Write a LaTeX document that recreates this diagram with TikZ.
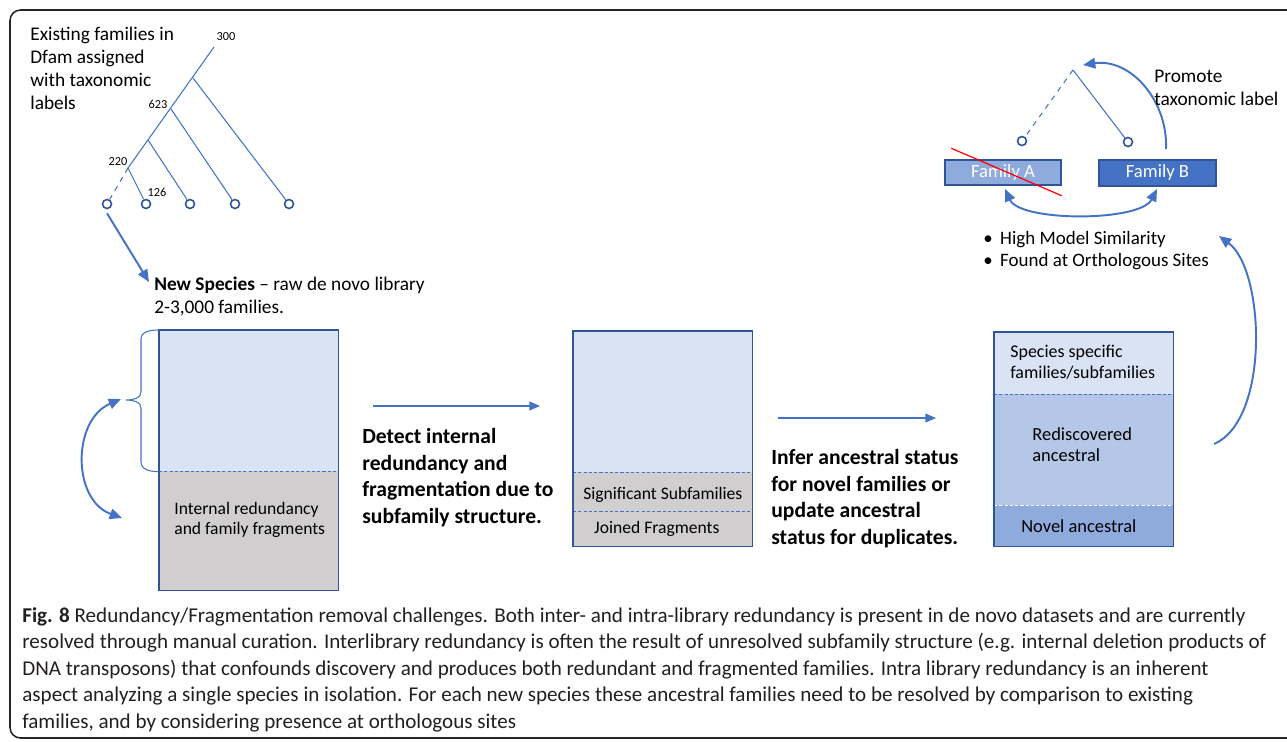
\documentclass[tikz,border=0pt]{standalone}
\usepackage{fontspec}
\setmainfont{Carlito}
\usetikzlibrary{arrows.meta,positioning,calc}

\definecolor{lineblue}{HTML}{4472C4}
\definecolor{darkblue}{HTML}{2F5597}
\definecolor{paleblue}{HTML}{DAE3F3}
\definecolor{midblue}{HTML}{B4C7E7}
\definecolor{softblue}{HTML}{8FAADC}
\definecolor{boxgray}{HTML}{D0CECE}
\definecolor{captext}{HTML}{231F20}

\begin{document}
\begin{tikzpicture}
  [
  x=0.02cm, y=-0.02cm, >={Triangle[length=7pt,width=6pt]},
  treeline/.style={draw=lineblue, line width=0.6pt},
  leaf/.style={circle, inner sep=0pt, minimum size=0.18cm, draw=darkblue, line width=0.9pt, fill=white},
  flow/.style={draw=lineblue, line width=1.1pt},
  thinflow/.style={draw=lineblue, line width=0.8pt, >={Triangle[length=6pt,width=5pt]}},
  part/.style={anchor=north west, inner sep=0pt, minimum width=3.58cm},
  boxline/.style={draw=darkblue, line width=0.8pt},
  sepline/.style={draw=lineblue, line width=0.7pt, dash pattern=on 1.8pt off 1.2pt},
  family/.style={rectangle, draw=darkblue, line width=0.8pt, text=white, inner sep=0pt, font=\fontsize{10.6}{12}\selectfont},
  txt/.style={inner sep=0pt, anchor=north west, align=left, font=\fontsize{11}{13.1}\selectfont},
  boxtxt/.style={inner sep=0pt, align=left, font=\fontsize{10}{11.6}\selectfont},
  steptxt/.style={inner sep=0pt, anchor=north west, align=left, font=\bfseries\fontsize{12.3}{15.2}\selectfont},
  num/.style={inner sep=0pt, font=\fontsize{7}{8}\selectfont}
  ]

  \useasboundingbox (0,0) rectangle (1287,741);
  \clip (0,0) rectangle (1287,741);
  \draw[line width=0.9pt, draw=black!85, rounded corners=6pt] (10,738) rectangle (1320,10);

  % existing Dfam tree
  \node[txt] (dfam) at (30,27) {Existing families in\\Dfam assigned\\with taxonomic\\labels};
  \coordinate (root) at (214,47);
  \coordinate (br1) at (193,78);
  \coordinate (br2) at (171,109);
  \coordinate (br3) at (148,140);
  \coordinate (br4) at (128,168);
  \draw[treeline] (root) -- (br4);

  \foreach \x [count=\i] in {107,146,190,235,289} {
    \node[leaf] (leaf\i) at (\x,204) {};
  }
  \draw[treeline, dashed] (br4) -- (leaf1);
  \draw[treeline] (br4) -- (leaf2);
  \draw[treeline] (br3) -- (leaf3);
  \draw[treeline] (br2) -- (leaf4);
  \draw[treeline] (br1) -- (leaf5);

  \node[num] (n300) at (226,37) {300};
  \node[num] (n623) at (158,104) {623};
  \node[num] (n220) at (118,162) {220};
  \node[num] (n126) at (157,192) {126};

  \coordinate (newsp) at (149,282);
  \draw[flow, ->] ([yshift=-0.08cm]leaf1.south) -- (newsp);
  \node[txt] (newlib) at (154,277) {\textbf{New Species} -- raw de novo library\\2-3,000 families.};

  % raw library box
  \node[part, fill=paleblue, minimum height=2.82cm] (lib-top) at (159,330) {};
  \node[part, fill=boxgray, minimum height=2.38cm] (lib-bot) at (159,471) {};
  \draw[sepline] (lib-top.south west) -- (lib-top.south east);
  \draw[boxline] (lib-top.north west) rectangle (lib-bot.south east);
  \node[boxtxt, anchor=north west] (lib-txt) at (174,502) {Internal redundancy\\and family fragments};

  % brace and loop arrow
  \draw[thinflow, line width=0.6pt] (lib-top.north west) to[out=180,in=90] (141,339) -- (141,392)
    to[out=-90,in=0] (126,400) to[out=0,in=90] (141,408) -- (141,462) to[out=-90,in=180] (lib-top.south west);
  \coordinate (loopA) at (121,399);
  \coordinate (loopB) at (122,518);
  \draw[flow, <->] (loopA) .. controls (72,420) and (72,500) .. (loopB);

  % step 1
  \coordinate (s1a) at (373,406);
  \coordinate (s1b) at (540,406);
  \draw[thinflow, ->] (s1a) -- (s1b);
  \node[steptxt] (step1) at (362,428) {Detect internal\\redundancy and\\fragmentation due to\\subfamily structure.};

  % collapsed library box
  \node[part, fill=paleblue, minimum height=2.82cm] (mid-top) at (573,331) {};
  \node[part, fill=boxgray, minimum height=0.78cm] (mid-sub) at (573,472) {};
  \node[part, fill=boxgray, minimum height=0.70cm] (mid-frag) at (573,511) {};
  \draw[sepline] (mid-top.south west) -- (mid-top.south east);
  \draw[sepline] (mid-sub.south west) -- (mid-sub.south east);
  \draw[boxline] (mid-top.north west) rectangle (mid-frag.south east);
  \node[boxtxt] (sub-txt) at ([yshift=-0.06cm]mid-sub.center) {Significant Subfamilies};
  \node[boxtxt] (frag-txt) at ([xshift=-0.12cm]mid-frag.center) {Joined Fragments};

  % step 2
  \coordinate (s2a) at (778,418);
  \coordinate (s2b) at (936,418);
  \draw[thinflow, ->] (s2a) -- (s2b);
  \node[steptxt] (step2) at (771,449) {Infer ancestral status\\for novel families or\\update ancestral\\status for duplicates.};

  % curated library box
  \node[part, fill=paleblue, minimum height=1.24cm] (cur-spec) at (994,332) {};
  \node[part, fill=midblue, minimum height=2.22cm] (cur-red) at (994,394) {};
  \node[part, fill=softblue, minimum height=0.82cm] (cur-nov) at (994,505) {};
  \draw[sepline] (cur-spec.south west) -- (cur-spec.south east);
  \draw[sepline, draw=white] (cur-red.south west) -- (cur-red.south east);
  \draw[boxline] (cur-spec.north west) rectangle (cur-nov.south east);
  \node[boxtxt, anchor=north west, font=\fontsize{10.2}{12}\selectfont] (spec-txt) at (1010,345) {Species specific\\families/subfamilies};
  \node[boxtxt, anchor=north west, font=\fontsize{10.5}{12}\selectfont] (red-txt) at (1032,427) {Rediscovered\\ancestral};
  \node[boxtxt, font=\fontsize{10.5}{12}\selectfont] (nov-txt) at ([xshift=-0.1cm]cur-nov.center) {Novel ancestral};

  % back to the criteria
  \coordinate (upA) at (1214,444);
  \coordinate (upB) at (1219,236);
  \draw[flow, ->] (upA) .. controls (1270,420) and (1265,270) .. (upB);
  \node[txt, font=\fontsize{10.8}{12.6}\selectfont] (crit) at (983,231)
    {\makebox[9.6pt][l]{\textbullet}High Model Similarity\\\makebox[9.6pt][l]{\textbullet}Found at Orthologous Sites};

  % family comparison
  \node[family, fill=softblue, minimum width=2.32cm, minimum height=0.5cm] (famA) at (1003,172.5) {Family A};
  \node[family, fill=lineblue, minimum width=2.34cm, minimum height=0.52cm] (famB) at (1157.5,173) {Family B};
  \draw[red, line width=0.7pt] ($(famA.north west)+(7,-11)$) -- ($(famA.south east)+(0,10)$);
  \coordinate (cmpA) at (1005,189);
  \coordinate (cmpB) at (1157,189);
  \draw[flow, <->] (cmpA) .. controls (1020,222) and (1140,222) .. (cmpB);

  \coordinate (top2) at (1073,70);
  \node[leaf] (leafA) at (1022,141) {};
  \node[leaf] (leafB) at (1128,142) {};
  \draw[treeline, dashed] (top2) -- (leafA);
  \draw[treeline] (top2) -- (leafB);

  \coordinate (promA) at (1166,149);
  \coordinate (promB) at (1083,65);
  \draw[flow, ->] (promA) .. controls (1168,100) and (1130,58) .. (promB);
  \node[txt] (prom) at (1154,70) {Promote\\taxonomic label};

  % caption
  \node[txt, text=captext, font=\fontsize{12}{15.1}\selectfont] (caption) at (22,607)
    {\textbf{Fig. 8} Redundancy/Fragmentation removal challenges. Both inter- and intra-library redundancy is present in de novo datasets and are currently\\
     resolved through manual curation. Interlibrary redundancy is often the result of unresolved subfamily structure (e.g. internal deletion products of\\
     DNA transposons) that confounds discovery and produces both redundant and fragmented families. Intra library redundancy is an inherent\\
     aspect analyzing a single species in isolation. For each new species these ancestral families need to be resolved by comparison to existing\\
     families, and by considering presence at orthologous sites};
\end{tikzpicture}
\end{document}
